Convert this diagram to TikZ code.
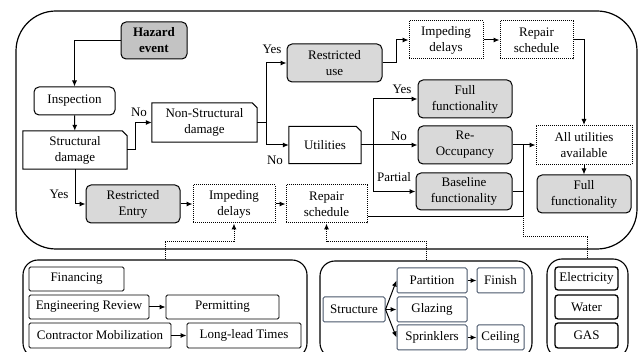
\documentclass[tikz,border=0pt]{standalone}
\usepackage{fontspec}
\setmainfont{Liberation Serif}
\usetikzlibrary{arrows.meta}
\definecolor{boxgray}{RGB}{217,217,217}
\definecolor{hazgray}{RGB}{195,195,195}
\definecolor{slate}{RGB}{72,86,106}
% outline with the top right corner cut off
\newcommand{\chamf}[1]{\draw[line width=1pt] (#1.south west) -- (#1.north west) -- ([xshift=-5pt]#1.north east) -- ([yshift=-5pt]#1.north east) -- (#1.south east) -- cycle;}

\begin{document}
\begin{tikzpicture}[x=1pt,y=-1pt]
	\tikzset{every node/.style={font=\fontsize{13}{16}\selectfont,align=center,inner sep=1pt}}
	\tikzset{whtblk/.style={draw,line width=1pt,rounded corners=5pt,minimum width=94pt,minimum height=38pt}}
	\tikzset{grayblk/.style={whtblk,fill=boxgray}}
	\tikzset{hazblk/.style={whtblk,fill=hazgray,font=\fontsize{13}{16}\selectfont\bfseries}}
	\tikzset{chamblk/.style={minimum width=94pt,minimum height=38pt}}
	\tikzset{dotblk/.style={draw,dash pattern=on 1pt off 1pt,line width=1pt,minimum width=94pt,minimum height=38pt}}
	\tikzset{grpblk/.style={draw,line width=1.1pt,rounded corners=15pt}}
	\tikzset{smallblk/.style={draw,line width=0.9pt,rounded corners=1.5pt,minimum height=24pt}}
	\tikzset{slateblk/.style={draw=slate,line width=1pt,rounded corners=1.5pt,minimum height=25pt}}
	\tikzset{utilblk/.style={draw,line width=1.3pt,rounded corners=3pt,minimum width=63pt,minimum height=24pt}}
	\tikzset{arr/.style={-{Latex[length=6pt,width=5pt]},line width=1pt}}
	\tikzset{dotarr/.style={arr,dash pattern=on 1pt off 1pt}}
	\tikzset{dotln/.style={dash pattern=on 1pt off 1pt,line width=1pt}}
	\useasboundingbox (0,0) rectangle (641,352);
	\draw[line width=1.2pt,rounded corners=40pt] (16,11) rectangle (637,249);
	% groups of delays
	\node[grpblk,minimum width=284pt,minimum height=98pt] (gfin) at (165,309) {};
	\node[grpblk,minimum width=212pt,minimum height=97pt] (gstruct) at (426,309.5) {};
	\node[grpblk,minimum width=81pt,minimum height=99pt] (gutil) at (587.5,308.5) {};
	% main flow
	\node[hazblk,minimum width=66pt,minimum height=37pt] (hazard) at (154,40.5) {Hazard\\event};
	\node[whtblk,minimum width=81pt,minimum height=28pt] (insp) at (74.5,101) {Inspection};
	\node[chamblk,minimum width=104pt] (strdmg) at (75,150) {Structural\\damage};
	\node[chamblk,minimum width=105pt,minimum height=39pt] (nonstr) at (204.5,122.5) {Non-Structural\\damage};
	\node[grayblk,minimum width=95pt] (resuse) at (334.5,63) {Restricted\\use};
	\node[dotblk,minimum width=74pt] (impd1) at (446,40) {Impeding\\delays};
	\node[dotblk,minimum width=73pt] (rep1) at (536.5,40) {Repair\\schedule};
	\node[chamblk,minimum width=72pt,minimum height=37pt] (util) at (325,145) {Utilities};
	\node[grayblk] (fullf1) at (465,99) {Full\\functionality};
	\node[grayblk] (reocc) at (465,145) {Re-\\Occupancy};
	\node[grayblk,minimum width=96pt,minimum height=37pt] (basef) at (464,191.5) {Baseline\\functionality};
	\node[dotblk,minimum width=96pt,minimum height=39pt] (allutil) at (584,145) {All utilities\\available};
	\node[grayblk] (fullf2) at (584,194) {Full\\functionality};
	\node[grayblk] (resent) at (133,204) {Restricted\\Entry};
	\node[dotblk,minimum width=82pt] (impd2) at (234,204) {Impeding\\delays};
	\node[dotblk,minimum width=81pt] (rep2) at (326.5,204) {Repair\\schedule};
	\chamf{strdmg}
	\chamf{nonstr}
	\chamf{util}
	% branch labels
	\node (lno1) at (139,112) {No};
	\node (lyes1) at (272,49) {Yes};
	\node (lno2) at (275,160) {No};
	\node (lyes2) at (402,89) {Yes};
	\node (lno3) at (399,136) {No};
	\node (lpart) at (394,177) {Partial};
	\node (lyes3) at (59,194) {Yes};
	% connectors
	\draw[arr] (hazard.west) -| (insp.north);
	\draw[arr] (insp) -- (strdmg);
	\draw[arr] (strdmg.east) -- ++(8,0) |- (nonstr.west);
	\draw[arr] (strdmg.south) |- (resent.west);
	\draw[arr] (nonstr.east) -- ++(9,0) coordinate (jn) |- (resuse.west);
	\draw[arr] (jn) |- (util.west);
	\draw[arr] (resuse.east) -- ++(14,0) |- (impd1.west);
	\draw[arr] (impd1) -- (rep1);
	\draw[arr] (rep1.east) -| (allutil.north);
	\draw[arr] (allutil) -- (fullf2);
	\draw[arr] (util.east) -- (reocc.west);
	\coordinate (ju) at ([xshift=12pt]util.east);
	\draw[arr] (ju) |- (fullf1.west);
	\draw[arr] (ju) |- (basef.west);
	\draw[arr] (reocc.east) -- (allutil.west);
	\coordinate (jr) at (523,145);
	\coordinate (jb) at ([yshift=7pt]rep2.south east);
	\draw[line width=1pt] (basef.east) -- (basef.east -| jr);
	\draw[line width=1pt] (jb) -| (jr);
	\draw[arr] (resent) -- (impd2);
	\draw[arr] (impd2) -- (rep2);
	\draw[dotln] (gutil.north) -- ++(0,-22) -| (jb -| jr);
	\draw[dotarr] (gfin.north) -- ++(0,-18) -| (impd2.south);
	\draw[dotarr] (gstruct.north) -- ++(0,-19) -| (rep2.south);
	% financing group
	\node[smallblk,minimum width=95pt] (fin) at (76.5,279) {Financing};
	\node[smallblk,minimum width=120pt] (engrev) at (89,307) {Engineering Review};
	\node[smallblk,minimum width=113pt] (permit) at (222.5,307) {Permitting};
	\node[smallblk,minimum width=142pt,minimum height=25pt] (contr) at (100,335.5) {Contractor Mobilization};
	\node[smallblk,minimum width=114pt,minimum height=25pt] (longl) at (244,335.5) {Long-lead Times};
	\draw[arr] (engrev) -- (permit);
	\draw[arr] (contr) -- (longl);
	% structure group
	\node[slateblk,minimum width=62pt] (struc) at (354,309.5) {Structure};
	\node[slateblk,minimum width=70pt] (partit) at (432,280.5) {Partition};
	\node[slateblk,minimum width=47pt] (finish) at (500.5,280.5) {Finish};
	\node[slateblk,minimum width=70pt] (glaz) at (432,309.5) {Glazing};
	\node[slateblk,minimum width=70pt] (sprink) at (432,337.5) {Sprinklers};
	\node[slateblk,minimum width=47pt] (ceil) at (500.5,337.5) {Ceiling};
	\draw[arr] (struc.east) -- (partit.west);
	\draw[arr] (struc.east) -- (glaz.west);
	\draw[arr] (struc.east) -- (sprink.west);
	\draw[arr] (partit) -- (finish);
	\draw[arr] (sprink) -- (ceil);
	% utilities group
	\node[utilblk,minimum height=23pt] (elec) at (586.5,278.5) {Electricity};
	\node[utilblk] (water) at (586.5,307) {Water};
	\node[utilblk,minimum height=25pt] (gas) at (586.5,335.5) {GAS};
\end{tikzpicture}
\end{document}
